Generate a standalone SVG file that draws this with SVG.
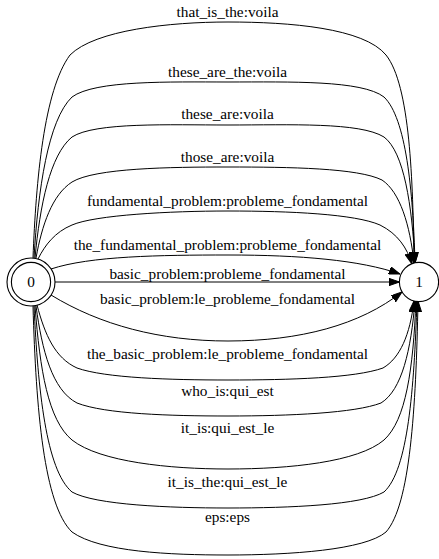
<svg xmlns="http://www.w3.org/2000/svg" width="439" height="559" viewBox="0 0 439 559">
<style>
.e{fill:none;stroke:#000;stroke-width:1;marker-end:url(#arr)}
.n{fill:none;stroke:#000;stroke-width:1.1}
text{font-family:"Liberation Serif","Times New Roman",serif;font-size:15.3px;fill:#000;text-anchor:middle}
</style>
<defs>
<marker id="arr" markerWidth="11" markerHeight="8" refX="11" refY="3.8" orient="auto" markerUnits="userSpaceOnUse">
<path d="M0,0 L11,3.8 L0,7.6 z" fill="#000" stroke="#000"/>
</marker>
</defs>
<rect width="439" height="559" fill="#fff"/>
<g id="edges">
<path class="e" d="M33,258 C36,180 44,90 70,55 C95,30 170,22 228,22 C290,22 364,28 386,55 C410,85 413,180 414,263"/>
<text x="227.5" y="17">that_is_the:voila</text>
<path class="e" d="M34,258 C38,190 48,120 72,97 C95,80 170,82 228,82 C290,82 362,80 384,97 C406,118 413,190 415,263"/>
<text x="227.5" y="77">these_are_the:voila</text>
<path class="e" d="M35,258 C40,205 50,155 72,137 C95,122 170,125 228,125 C290,125 360,122 384,137 C404,152 412,205 415,263"/>
<text x="227.5" y="119">these_are:voila</text>
<path class="e" d="M36,258 C42,225 52,195 72,182 C95,168 170,167 228,167 C290,167 358,168 382,180 C400,192 410,225 414,263"/>
<text x="227.5" y="162">those_are:voila</text>
<path class="e" d="M38,259 C45,245 55,232 72,225 C95,215 170,211 228,211 C290,211 355,214 380,225 C398,234 407,248 412,264"/>
<text x="227.5" y="206">fundamental_problem:probleme_fondamental</text>
<path class="e" d="M51,269 C90,256 160,255 228,255 C300,255 360,260 400,274"/>
<text x="227.5" y="250">the_fundamental_problem:probleme_fondamental</text>
<path class="e" d="M55,282 L399.5,282"/>
<text x="227.5" y="279">basic_problem:probleme_fondamental</text>
<path class="e" d="M51,295 C100,325 160,341 228,341 C300,341 360,325 402,292"/>
<text x="227.5" y="304">basic_problem:le_probleme_fondamental</text>
<path class="e" d="M37,305 C45,335 55,358 77,368 C105,378 170,380 228,380 C290,380 355,378 383,368 C400,358 410,335 414,301"/>
<text x="227.5" y="359">the_basic_problem:le_probleme_fondamental</text>
<path class="e" d="M36,306 C42,350 52,390 77,403 C105,414 170,416 228,416 C290,416 355,413 381,403 C402,390 411,350 415,301"/>
<text x="227.5" y="396">who_is:qui_est</text>
<path class="e" d="M35,306 C40,370 48,420 72,440 C100,462 170,469 228,469 C290,469 358,462 384,440 C406,420 413,370 416,301"/>
<text x="227.5" y="433">it_is:qui_est_le</text>
<path class="e" d="M34,306 C38,390 46,470 72,492 C95,505 170,508 228,508 C290,508 362,505 384,492 C408,470 414,390 417,301"/>
<text x="227.5" y="487">it_is_the:qui_est_le</text>
<path class="e" d="M33,306 C36,410 44,505 72,532 C100,552 170,555 228,555 C290,555 365,550 386,532 C410,505 416,410 418,301"/>
<text x="227.5" y="522">eps:eps</text>
</g>
<g id="node0">
<circle class="n" cx="31" cy="282" r="19.6" fill="#fff"/>
<circle class="n" cx="31" cy="282" r="24"/>
<text x="31" y="287">0</text>
</g>
<g id="node1">
<circle class="n" cx="419" cy="282" r="19.6"/>
<text x="419" y="287">1</text>
</g>
</svg>
